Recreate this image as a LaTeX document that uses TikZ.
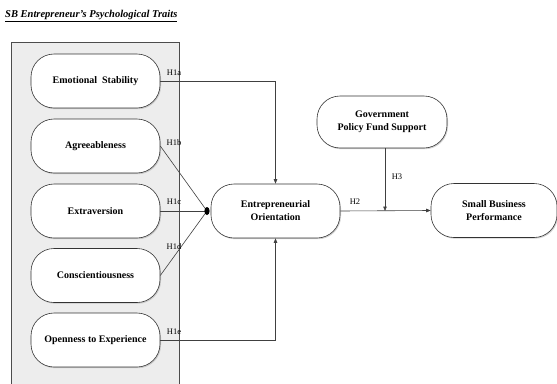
\documentclass[tikz,border=0pt]{standalone}
\usepackage{fontspec}
\setmainfont{Liberation Serif}
\usetikzlibrary{arrows.meta,shadows}
\begin{document}
\begin{tikzpicture}[x=1pt,y=-1pt,
  pill/.style={draw=black!80, line width=0.6pt, fill=white, rounded corners=23pt,
     minimum width=129pt, minimum height=54pt, align=center,
     font=\bfseries\fontsize{10}{13}\selectfont,
     drop shadow={shadow xshift=1pt,shadow yshift=-1.2pt,fill=black!35}},
  conn/.style={draw=black!75, line width=0.6pt},
  arr/.style={conn, -{Triangle[length=4.5pt,width=3.5pt]}},
  hlab/.style={font=\fontsize{8.5}{9}\selectfont, inner sep=0pt}]
\useasboundingbox (0,0) rectangle (557,383);
\fill[white] (0,0) rectangle (557,383);
% title
\node[anchor=west, inner sep=0pt, font=\bfseries\itshape\fontsize{10.5}{12}\selectfont] (title) at (5,16)
  {\underline{SB Entrepreneur's Psychological Traits}};
% group box
\filldraw[fill=black!7, draw=black!70, line width=0.7pt] (11,390) -- (11,42) -- (179,42) -- (179,390);
% trait nodes
\node[pill] (es) at (95.5,81) {Emotional\ \ Stability};
\node[pill] (ag) at (95.5,146) {Agreeableness};
\node[pill] (ex) at (95.5,211) {Extraversion};
\node[pill] (co) at (95.5,275.5) {Conscientiousness};
\node[pill] (op) at (95.5,340) {Openness to Experience};
% main nodes
\node[pill] (eo) at (275.5,211) {Entrepreneurial\\Orientation};
\node[pill, minimum width=130pt, minimum height=52pt] (gv) at (382,122) {Government\\Policy Fund Support};
\node[pill, minimum width=126pt] (sb) at (494,210.5) {Small Business\\Performance};
% convergence point
\coordinate (cp) at (207,211);
\coordinate (hm) at (385,211);
% connectors
\draw[arr] (es.east) -| (eo.north);
\draw[arr] (op.east) -| (eo.south);
\draw[conn] (ag.east) -- (cp);
\draw[conn] (ex.east) -- (cp);
\draw[conn] (co.east) -- (cp);
\fill[black] (cp) ellipse (2.6pt and 4pt);
\draw[arr] (eo.east) -- (sb.west);
\draw[arr] (gv.south -| hm) -- (hm);
% labels
\node[hlab] at (174,73) {H1a};
\node[hlab] at (174,143) {H1b};
\node[hlab] at (174,202) {H1c};
\node[hlab] at (174,247) {H1d};
\node[hlab] at (174,332) {H1e};
\node[hlab] at (355,202) {H2};
\node[hlab] at (397,177) {H3};
\end{tikzpicture}
\end{document}
